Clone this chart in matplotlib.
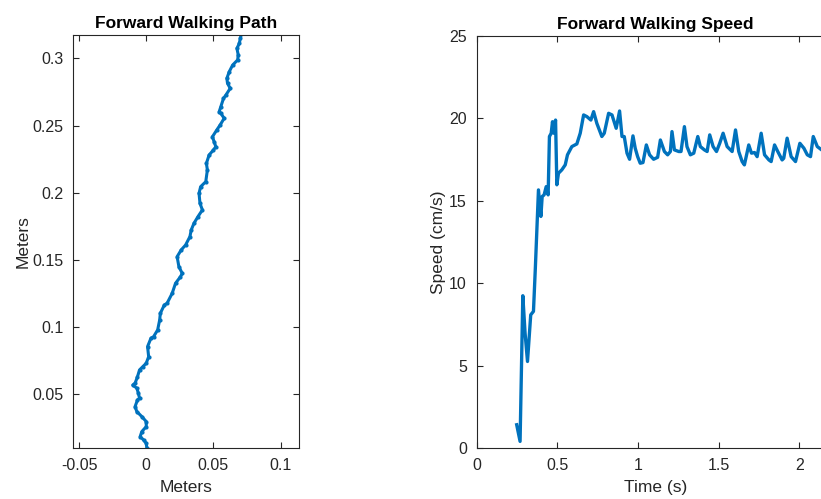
import numpy as np
import matplotlib
matplotlib.use("Agg")
import matplotlib.pyplot as plt

plt.rcParams['font.family'] = ['Liberation Sans', 'DejaVu Sans']
plt.rcParams['axes.unicode_minus'] = False

# walking path (meters)
path_x = [0.0005, 0.0, -0.002, -0.0045, -0.0033, 0.0, 0.0, -0.0033, -0.007, -0.0083,
          -0.0065, -0.005, -0.0058, -0.007, -0.01, -0.0083, -0.0065, -0.005, -0.0025, 0.0,
          0.0018, 0.001, 0.0035, 0.0055, 0.0085, 0.01, 0.0105, 0.0135, 0.0155, 0.0193,
          0.0218, 0.0255, 0.0268, 0.0243, 0.023, 0.026, 0.0293, 0.0325, 0.0335, 0.0355,
          0.0385, 0.0418, 0.04, 0.0393, 0.0405, 0.0443, 0.0455, 0.0448, 0.0468, 0.05,
          0.0518, 0.0505, 0.0493, 0.0525, 0.055, 0.058, 0.0555, 0.0543, 0.0555, 0.0575,
          0.0593, 0.0625, 0.0605, 0.06, 0.0618, 0.0643, 0.068, 0.0685, 0.0675, 0.0693,
          0.07, 0.071]
path_y = [0.0098, 0.0135, 0.016, 0.0185, 0.0222, 0.0259, 0.0297, 0.0334, 0.0371, 0.0408,
          0.0458, 0.047, 0.0507, 0.0545, 0.0569, 0.0582, 0.0631, 0.0681, 0.0706, 0.0731,
          0.078, 0.0855, 0.0917, 0.0929, 0.0979, 0.1053, 0.1103, 0.1165, 0.1177, 0.1251,
          0.1326, 0.1375, 0.14, 0.145, 0.1524, 0.1574, 0.1611, 0.1673, 0.1723, 0.1772,
          0.1822, 0.1872, 0.1921, 0.1996, 0.2045, 0.2082, 0.2169, 0.2219, 0.2281, 0.2318,
          0.2343, 0.238, 0.2417, 0.2467, 0.2504, 0.2554, 0.2591, 0.2603, 0.264, 0.2702,
          0.2727, 0.2777, 0.2814, 0.2851, 0.2901, 0.295, 0.2988, 0.3025, 0.3074, 0.3112,
          0.3149, 0.3186]

# forward speed over time
t = [0.248, 0.269, 0.286, 0.300, 0.315, 0.335, 0.352, 0.364, 0.383, 0.398,
     0.406, 0.418, 0.431, 0.443, 0.451, 0.462, 0.470, 0.478, 0.489, 0.497,
     0.507, 0.528, 0.549, 0.563, 0.590, 0.621, 0.642, 0.663, 0.683, 0.708,
     0.725, 0.745, 0.776, 0.791, 0.818, 0.839, 0.865, 0.886, 0.901, 0.915,
     0.932, 0.948, 0.969, 0.983, 0.998, 1.014, 1.031, 1.052, 1.072, 1.097,
     1.122, 1.139, 1.164, 1.184, 1.201, 1.211, 1.226, 1.253, 1.267, 1.288,
     1.304, 1.325, 1.346, 1.371, 1.387, 1.412, 1.429, 1.445, 1.466, 1.487,
     1.507, 1.528, 1.553, 1.584, 1.605, 1.625, 1.646, 1.660, 1.687, 1.704,
     1.723, 1.739, 1.764, 1.785, 1.812, 1.826, 1.847, 1.867, 1.894, 1.904,
     1.925, 1.950, 1.977, 2.004, 2.029, 2.050, 2.070, 2.087, 2.112, 2.139,
     2.170, 2.200]
speed = [1.41, 0.4, 9.24, 6.97, 5.25, 8.08, 8.29, 11.0, 15.66, 14.05,
         15.26, 15.36, 15.86, 15.36, 18.9, 19.1, 19.8, 19.1, 19.9, 15.97,
         16.67, 16.88, 17.18, 17.79, 18.29, 18.45, 19.1, 20.21, 20.11, 19.9,
         20.41, 19.7, 18.9, 19.1, 20.31, 20.21, 19.4, 20.45, 18.9, 18.9,
         17.89, 17.52, 18.94, 18.19, 17.68, 17.28, 17.32, 18.39, 17.79, 17.52,
         17.64, 18.69, 17.99, 17.79, 17.99, 19.2, 18.09, 17.99, 17.99, 19.5,
         18.29, 17.79, 17.89, 18.9, 18.29, 18.09, 17.99, 19.0, 18.29, 17.99,
         18.49, 19.1, 18.29, 17.99, 19.3, 17.99, 17.38, 17.18, 18.39, 17.89,
         17.93, 17.68, 19.1, 17.79, 17.48, 17.38, 18.39, 17.99, 17.48, 17.58,
         18.8, 17.68, 17.38, 18.49, 18.19, 17.79, 17.68, 18.9, 18.29, 18.09,
         17.9, 18.0]

blue = '#0072BD'
dark = '#262626'


def style(ax):
    for s in ax.spines.values():
        s.set_color(dark)
        s.set_linewidth(0.8)
    ax.tick_params(direction='in', top=True, right=True, length=4,
                   color=dark, labelcolor=dark, labelsize=11.5, width=0.8, pad=7)


fig = plt.figure(figsize=(8.21, 4.99), dpi=100)

ax1 = fig.add_axes([73 / 821, 51 / 499, 226 / 821, 413 / 499])
ax1.plot(path_x, path_y, '.-', color=blue, markersize=4, linewidth=2.2)
ax1.set_xlim(-0.0545, 0.1137)
ax1.set_ylim(0.01, 0.3174)
ax1.set_xticks([-0.05, 0, 0.05, 0.1])
ax1.set_xticklabels(['-0.05', '0', '0.05', '0.1'])
ax1.set_yticks([0.05, 0.1, 0.15, 0.2, 0.25, 0.3])
ax1.set_yticklabels(['0.05', '0.1', '0.15', '0.2', '0.25', '0.3'])
ax1.set_xlabel('Meters', fontsize=12.5, color=dark, labelpad=5)
ax1.set_ylabel('Meters', fontsize=12.5, color=dark, labelpad=1)
ax1.set_title('Forward Walking Path', fontsize=12.5, fontweight='bold', pad=5)
style(ax1)

ax2 = fig.add_axes([476.7 / 821, 51 / 499, 358 / 821, 412 / 499])
ax2.plot(t, speed, color=blue, linewidth=2.4)
ax2.set_xlim(0, 2.22)
ax2.set_ylim(0, 25)
ax2.set_xticks([0, 0.5, 1, 1.5, 2])
ax2.set_xticklabels(['0', '0.5', '1', '1.5', '2'])
ax2.set_yticks([0, 5, 10, 15, 20, 25])
ax2.set_xlabel('Time (s)', fontsize=12.5, color=dark, labelpad=5)
ax2.set_ylabel('Speed (cm/s)', fontsize=12.5, color=dark, labelpad=2)
ax2.set_title('Forward Walking Speed', fontsize=12.5, fontweight='bold', pad=5)
style(ax2)

fig.savefig('out.png', dpi=100)
